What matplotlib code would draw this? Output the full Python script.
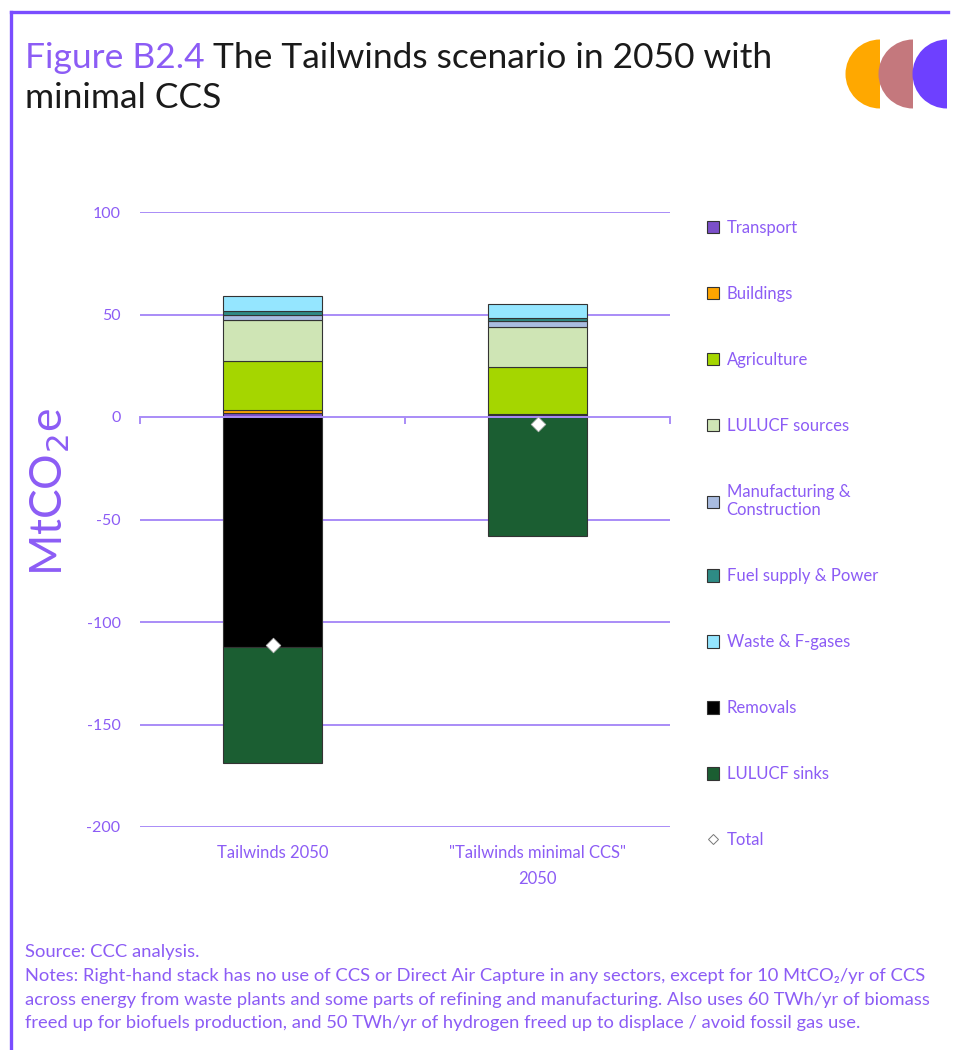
import numpy as np
import matplotlib
matplotlib.use("Agg")
import matplotlib.pyplot as plt
from matplotlib.lines import Line2D
from matplotlib.patches import Wedge, Patch

# ── data ────────────────────────────────────────────────────────────────
categories = ["Tailwinds 2050", "\"Tailwinds minimal CCS\"\n2050"]

pos_sectors = ["Transport", "Buildings", "Agriculture", "LULUCF sources",
               "Manufacturing &\nConstruction", "Fuel supply & Power",
               "Waste & F-gases"]
pos_values = {
    "Transport":                     [2.0, 1.0],
    "Buildings":                     [1.5, 0.4],
    "Agriculture":                   [24.0, 23.0],
    "LULUCF sources":                [20.0, 19.7],
    "Manufacturing &\nConstruction": [2.5, 2.7],
    "Fuel supply & Power":           [1.5, 1.6],
    "Waste & F-gases":               [7.5, 6.8],
}
neg_sectors = ["Removals", "LULUCF sinks"]
neg_values = {
    "Removals":     [-112.0, 0.0],
    "LULUCF sinks": [-57.0, -58.0],
}
totals = [-111.0, -3.4]

yticks = [100, 50, 0, -50, -100, -150, -200]

# ── style ───────────────────────────────────────────────────────────────
COLOURS = {
    "Transport":                     "#7B4FC9",
    "Buildings":                     "#FFA500",
    "Agriculture":                   "#A5D600",
    "LULUCF sources":                "#CFE5B5",
    "Manufacturing &\nConstruction": "#A9BCE0",
    "Fuel supply & Power":           "#2E8B85",
    "Waste & F-gases":               "#95E6FF",
    "Removals":                      "#000000",
    "LULUCF sinks":                  "#1B5E32",
}
PURPLE = "#8C5CF5"
GRID = "#A98CF7"
BORDER = "#7A4DFF"
FONT = "Lato"

fig = plt.figure(figsize=(9.55, 10.5), dpi=100)
W, H = 955, 1050

ax = fig.add_axes([140 / W, 1 - 827 / H, 530 / W, 615 / H])
x = np.arange(len(categories))
bw = 0.377

bottom = np.zeros(len(categories))
for s in pos_sectors:
    v = np.array(pos_values[s])
    ax.bar(x, v, bw, bottom=bottom, color=COLOURS[s], edgecolor="#333333",
           linewidth=0.8, zorder=3)
    bottom += v
bottom = np.zeros(len(categories))
for s in neg_sectors:
    v = np.array(neg_values[s])
    ax.bar(x, v, bw, bottom=bottom, color=COLOURS[s], edgecolor="#333333",
           linewidth=0.8, zorder=3)
    bottom += v

ax.scatter(x, totals, marker="D", s=55, facecolor="white",
           edgecolor="#BBBBBB", linewidth=0.6, zorder=5)

ax.set_xlim(-0.5, 1.5)
ax.set_ylim(-200, 100)
ax.set_yticks(yticks)
ax.set_yticklabels([str(t) for t in yticks], fontsize=11.5, color=PURPLE,
                   family=FONT)
ax.tick_params(axis="y", length=0, pad=14)
for t in yticks:
    if t != 0:
        ax.axhline(t, color=GRID, linewidth=1.4, zorder=1)
for side in ["top", "right", "left"]:
    ax.spines[side].set_visible(False)
ax.spines["bottom"].set_position(("data", 0))
ax.spines["bottom"].set_color(GRID)
ax.spines["bottom"].set_linewidth(1.4)
ax.spines["bottom"].set_zorder(4)
ax.set_xticks(x)
ax.set_xticklabels([])
ax.tick_params(axis="x", which="major", length=0)
ax.set_xticks([-0.5, 0.5, 1.5], minor=True)
ax.tick_params(axis="x", which="minor", length=5, width=1.4, color=GRID,
               direction="out")
ax.set_facecolor("none")

for xi, lab in zip(x, categories):
    ax.text(xi, -0.03, lab, transform=ax.get_xaxis_transform(),
            ha="center", va="top", fontsize=12, color=PURPLE, family=FONT,
            linespacing=1.7)

fig.text(50 / W, 1 - 492 / H, "MtCO$_2$e", rotation=90, ha="center",
         va="center", fontsize=32, color=PURPLE, family=FONT)

# legend
handles = [Patch(facecolor=COLOURS[s], edgecolor="#333333", linewidth=0.8,
                 label=s) for s in pos_sectors + neg_sectors]
handles.append(Line2D([], [], marker="D", linestyle="none", markersize=5,
                      markerfacecolor="white", markeredgecolor="#777777",
                      markeredgewidth=0.7, label="Total"))
leg = fig.legend(handles=handles, loc="upper left",
                 bbox_to_anchor=(700 / W, 1 - 213 / H), frameon=False,
                 prop={"family": FONT, "size": 12}, labelcolor=PURPLE,
                 handlelength=0.75, handleheight=0.75, handletextpad=0.45,
                 labelspacing=3.0, borderaxespad=0)

# title
r = fig.canvas.get_renderer()
t1 = fig.text(25 / W, 1 - 68 / H, "Figure B2.4", fontsize=25.5, color=PURPLE,
              family=FONT, va="baseline")
bb = t1.get_window_extent(r)
fig.text((bb.x1 + 8) / W, 1 - 68 / H, "The Tailwinds scenario in 2050 with",
         fontsize=25.5, color="#1A1A1A", family=FONT, va="baseline")
fig.text(25 / W, 1 - 108 / H, "minimal CCS", fontsize=25.5, color="#1A1A1A",
         family=FONT, va="baseline")

# notes
notes = ("Source: CCC analysis.\n"
         "Notes: Right-hand stack has no use of CCS or Direct Air Capture in any sectors, "
         "except for 10 MtCO\u2082/yr of CCS\n"
         "across energy from waste plants and some parts of refining and manufacturing. "
         "Also uses 60 TWh/yr of biomass\n"
         "freed up for biofuels production, and 50 TWh/yr of hydrogen freed up to "
         "displace / avoid fossil gas use.")
fig.text(25 / W, 1 - 944 / H, notes, fontsize=13.2, color=PURPLE,
         family=[FONT, "DejaVu Sans"], va="top", linespacing=1.6)

# border
fig.add_artist(Line2D([11 / W, 11 / W], [0, 1 - 12 / H], color=BORDER,
                      linewidth=2.4, transform=fig.transFigure))
fig.add_artist(Line2D([11 / W, 948 / W], [1 - 12 / H, 1 - 12 / H],
                      color=BORDER, linewidth=2.4, transform=fig.transFigure))

# logo: three left half-discs
for cx, col in zip([880, 913, 947], ["#FFA800", "#C4787D", "#6E40FF"]):
    fig.add_artist(Wedge((cx / 100, (H - 74) / 100), 0.345, 90, 270,
                         facecolor=col, edgecolor="none",
                         transform=fig.dpi_scale_trans))

fig.savefig("out.png", dpi=100)
